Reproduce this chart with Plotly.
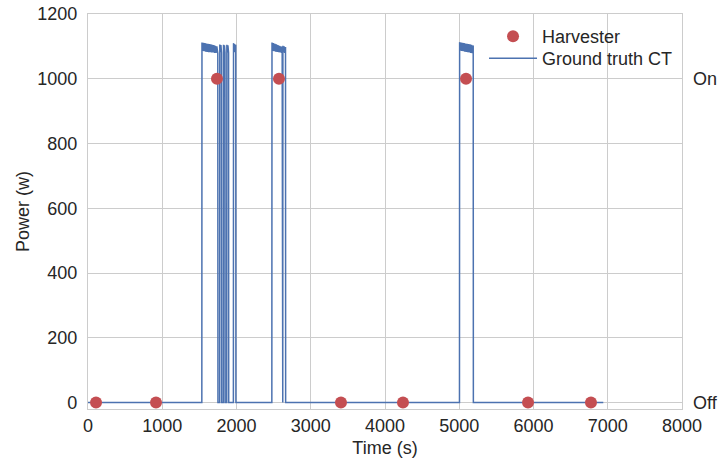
import plotly.graph_objects as go

# Ground-truth current-transformer reading (seconds, watts)
gt_time = [
    0, 1533,
    # first heating cycle
    1535, 1545, 1555, 1565, 1575, 1585, 1595, 1605, 1615, 1625, 1635,
    1645, 1655, 1665, 1675, 1685, 1695, 1705, 1715, 1725, 1735, 1748,
    1750, 1773,
    # short bursts after the first cycle
    1775, 1782, 1790, 1798, 1800, 1823,
    1825, 1832, 1838, 1845, 1847, 1868,
    1870, 1877, 1884, 1893, 1895, 1958,
    1960, 1967, 1974, 1981, 1990, 1992, 2476,
    # second heating cycle
    2478, 2488, 2498, 2508, 2518, 2528, 2538, 2548, 2558, 2568, 2578,
    2588, 2598, 2608, 2615, 2617, 2623,
    2625, 2633, 2641, 2650, 2660, 2662, 5003,
    # third heating cycle
    5005, 5015, 5025, 5035, 5045, 5055, 5065, 5075, 5085, 5095, 5105,
    5115, 5125, 5135, 5145, 5155, 5165, 5175, 5188, 5190, 6940,
]
gt_power = [
    0, 0,
    1112, 1086, 1111, 1085, 1110, 1084, 1109, 1083, 1108, 1082, 1107,
    1082, 1106, 1081, 1105, 1081, 1104, 1080, 1102, 1080, 1100, 1079,
    0, 0,
    1106, 1082, 1104, 1081, 0, 0,
    1105, 1082, 1103, 1081, 0, 0,
    1105, 1081, 1103, 1080, 0, 0,
    1110, 1084, 1107, 1082, 1105, 0, 0,
    1112, 1086, 1110, 1085, 1108, 1084, 1106, 1083, 1104, 1082, 1102,
    1081, 1100, 1080, 1099, 0, 0,
    1102, 1081, 1100, 1080, 1098, 0, 0,
    1113, 1087, 1112, 1086, 1111, 1085, 1110, 1084, 1109, 1083, 1108,
    1082, 1107, 1081, 1106, 1080, 1105, 1079, 1103, 0, 0,
]

# Harvester on/off detections (seconds, state mapped to watts)
harv_time = [108, 916, 1737, 2572, 3407, 4242, 5091, 5926, 6774]
harv_state = [0, 0, 1000, 1000, 0, 0, 1000, 0, 0]

x_ticks = [0, 1000, 2000, 3000, 4000, 5000, 6000, 7000, 8000]
y_ticks = [0, 200, 400, 600, 800, 1000, 1200]
state_ticks = [0, 1000]
state_labels = ["Off", "On"]

blue = "#4C72B0"
red = "#C44E52"
grid = "#cccccc"
ink = "#262626"
font_family = "Liberation Sans, Arial, sans-serif"
fs = 18

fig = go.Figure()
fig.add_trace(go.Scatter(
    x=gt_time, y=gt_power, mode="lines", name="Ground truth CT",
    line=dict(color=blue, width=1.5), legend="legend2",
))
fig.add_trace(go.Scatter(
    x=harv_time, y=harv_state, mode="markers", name="Harvester",
    marker=dict(color=red, size=12), yaxis="y2", legend="legend",
))

axis_common = dict(
    showline=True, linecolor=grid, linewidth=1.3, mirror=True,
    gridcolor=grid, gridwidth=1.3, zeroline=False, ticks="",
    automargin=False,
    tickfont=dict(size=fs, color=ink, family=font_family),
)

legend_common = dict(
    xanchor="left", yanchor="top",
    bgcolor="rgba(0,0,0,0)", borderwidth=0,
    font=dict(size=fs, color=ink), itemwidth=48,
)

fig.update_layout(
    width=718, height=466,
    margin=dict(l=88, r=36, t=14, b=57),
    paper_bgcolor="white", plot_bgcolor="white",
    font=dict(family=font_family, size=fs, color=ink),
    xaxis=dict(
        range=[0, 8000], tickvals=x_ticks,
        title=dict(text="Time (s)", font=dict(size=fs), standoff=6),
        **axis_common,
    ),
    yaxis=dict(
        range=[-20, 1200], tickvals=y_ticks, ticklabelstandoff=6,
        title=dict(text="Power (w)", font=dict(size=fs), standoff=2),
        **axis_common,
    ),
    yaxis2=dict(
        range=[-20, 1200], overlaying="y", side="right",
        tickvals=state_ticks, ticktext=state_labels,
        showgrid=False, zeroline=False, showline=False, ticks="",
        ticklabelstandoff=10, automargin=False,
        tickfont=dict(size=fs, color=ink, family=font_family),
    ),
    legend=dict(x=0.6667, y=0.99, **legend_common),
    legend2=dict(x=0.6667, y=0.934, **legend_common),
    showlegend=True,
)

fig.write_html("out.html")
